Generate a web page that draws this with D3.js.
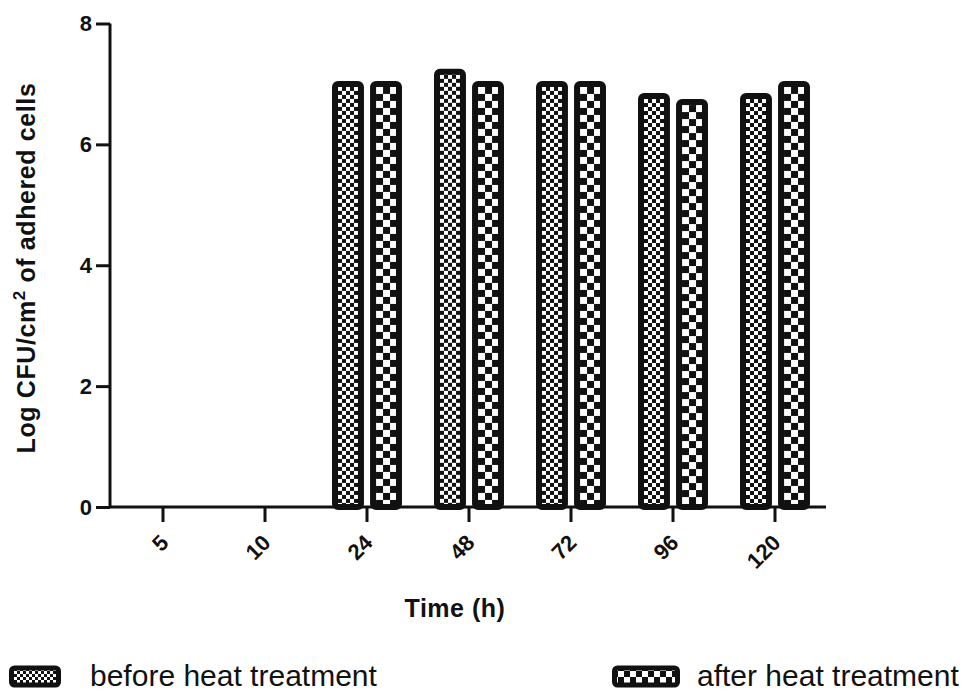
<!DOCTYPE html>
<html>
<head>
<meta charset="utf-8">
<script src="https://cdn.jsdelivr.net/npm/d3@7"></script>
<style>
  body { margin: 0; background: #fff; }
  svg { display: block; font-family: "Liberation Sans", Arial, sans-serif; }
</style>
</head>
<body>
<div id="chart"></div>
<script>
// data
const categories = ['5', '10', '24', '48', '72', '96', '120'];
const beforeHeat = [0, 0, 7.0, 7.2, 7.0, 6.8, 6.8];
const afterHeat = [0, 0, 7.0, 7.0, 7.0, 6.7, 7.0];
const yTicks = [0, 2, 4, 6, 8];
const seriesNames = ['before heat treatment', 'after heat treatment'];

const width = 968, height = 694;
const ink = '#111';
const sw = 6; // bar outline

const svg = d3.select('#chart').append('svg')
    .attr('width', width)
    .attr('height', height);
const defs = svg.append('defs');

const xScale = d3.scaleBand()
    .domain(categories)
    .range([112, 826])
    .paddingInner(0.314)
    .paddingOuter(0.157);
const xSub = d3.scaleBand()
    .domain(['before', 'after'])
    .range([0, xScale.bandwidth()])
    .paddingInner(0.16);
const yScale = d3.scaleLinear()
    .domain([0, 8])
    .range([507, 23.5]);

// checker pattern, cell size c, aligned at (x0, y0)
function checker(id, x0, y0, c) {
    const p = defs.append('pattern')
        .attr('id', id)
        .attr('patternUnits', 'userSpaceOnUse')
        .attr('x', x0).attr('y', y0)
        .attr('width', c * 2).attr('height', c * 2);
    p.append('rect').attr('width', c * 2).attr('height', c * 2).attr('fill', '#fff');
    p.append('rect').attr('x', c).attr('y', 0).attr('width', c).attr('height', c).attr('fill', ink);
    p.append('rect').attr('x', 0).attr('y', c).attr('width', c).attr('height', c).attr('fill', ink);
    return `url(#${id})`;
}

const bars = [];
categories.forEach((cat, i) => {
    [['before', beforeHeat[i]], ['after', afterHeat[i]]].forEach(([key, v]) => {
        if (v > 0) bars.push({ cat, key, v, i });
    });
});

svg.append('g').selectAll('rect')
    .data(bars)
    .join('rect')
    .attr('x', d => xScale(d.cat) + xSub(d.key) + sw / 2)
    .attr('y', d => yScale(d.v))
    .attr('width', xSub.bandwidth() - sw)
    .attr('height', d => yScale(0) - yScale(d.v))
    .attr('rx', 3)
    .attr('fill', d => {
        const x0 = xScale(d.cat) + xSub(d.key) + sw;
        const y0 = yScale(d.v) + sw / 2;
        return d.key === 'before'
            ? checker(`pb${d.i}`, x0, y0, 4)
            : checker(`pa${d.i}`, x0, y0, 7);
    })
    .attr('stroke', ink)
    .attr('stroke-width', sw);

// axes
const yAxis = svg.append('g')
    .attr('transform', 'translate(110,0)')
    .call(d3.axisLeft(yScale).tickValues(yTicks).tickSize(14).tickPadding(4));
const xAxis = svg.append('g')
    .attr('transform', `translate(0,${yScale(0)})`)
    .call(d3.axisBottom(xScale).tickSize(15).tickPadding(0));

[yAxis, xAxis].forEach(g => {
    g.select('.domain').attr('stroke', ink).attr('stroke-width', 3);
    g.selectAll('.tick line').attr('stroke', ink).attr('stroke-width', 3);
});
yAxis.select('.domain').attr('d', `M-0,${yScale(8)}V${yScale(0)}`);
xAxis.select('.domain').attr('d', 'M110,0H826');

yAxis.selectAll('.tick text')
    .attr('fill', ink)
    .style('font-size', '22px')
    .style('font-weight', 'bold');

xAxis.selectAll('.tick text')
    .attr('fill', ink)
    .style('font-size', '22px')
    .style('font-weight', 'bold')
    .attr('text-anchor', 'end')
    .attr('dy', null)
    .attr('y', null)
    .attr('transform', 'translate(7,37) rotate(-45)');

// axis titles
svg.append('text')
    .attr('x', 455)
    .attr('y', 617)
    .attr('text-anchor', 'middle')
    .attr('fill', ink)
    .style('font-size', '25px')
    .style('font-weight', 'bold')
    .style('letter-spacing', '0.5px')
    .text('Time (h)');

const yTitle = svg.append('text')
    .attr('transform', 'translate(35,268) rotate(-90)')
    .attr('text-anchor', 'middle')
    .attr('fill', ink)
    .style('font-size', '25px')
    .style('font-weight', 'bold')
    .style('letter-spacing', '0.6px');
yTitle.append('tspan').text('Log CFU/cm');
yTitle.append('tspan').attr('dy', -10).style('font-size', '17px').text('2');
yTitle.append('tspan').attr('dy', 10).text(' of adhered cells');

// legend
const legend = [
    { name: seriesNames[0], x: 9, w: 47, tx: 90, fill: checker('lb', 14, 671, 3) },
    { name: seriesNames[1], x: 612, w: 63, tx: 697, fill: checker('la', 618, 671, 6) }
];
const lg = svg.append('g').selectAll('g').data(legend).join('g');
lg.append('rect')
    .attr('x', d => d.x + 2.5)
    .attr('y', 668)
    .attr('width', d => d.w)
    .attr('height', 17)
    .attr('rx', 3)
    .attr('fill', d => d.fill)
    .attr('stroke', ink)
    .attr('stroke-width', 5);
lg.append('text')
    .attr('x', d => d.tx)
    .attr('y', 686)
    .attr('fill', ink)
    .style('font-size', '30px')
    .text(d => d.name);
</script>
</body>
</html>
